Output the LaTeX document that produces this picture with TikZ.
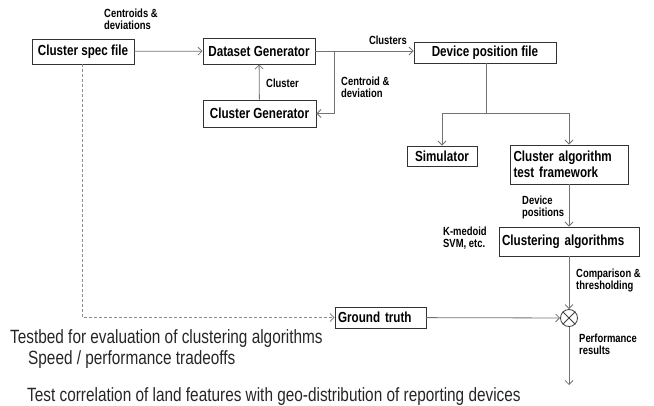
\documentclass[tikz,border=0pt]{standalone}
\usepackage{fontspec}
\setmainfont{Liberation Sans}
\newfontfamily\narrowfont[FakeStretch=0.80]{Liberation Sans}
\usetikzlibrary{arrows.meta}
\begin{document}
\begin{tikzpicture}[x=1pt,y=-1pt,
  box/.style={draw=black!80,line width=0.9pt,inner sep=2pt,
    font=\narrowfont\bfseries\fontsize{14.6}{15.5}\selectfont},
  lbl/.style={inner sep=0pt,align=left,anchor=north west,
    font=\narrowfont\bfseries\fontsize{11.8}{12}\selectfont},
  note/.style={inner sep=0pt,anchor=west,
    font=\narrowfont\fontsize{19.2}{20}\selectfont,text=black!85},
  link/.style={draw=black!55,line width=0.8pt},
  arr/.style={link,-{Straight Barb[length=4pt,width=8pt]}},
  dashlink/.style={arr,densely dashed,draw=black!45}]
\useasboundingbox (0,0) rectangle (654,406);

% boxes
\node[box,minimum width=102pt,minimum height=25pt] (spec) at (83,51.5) {Cluster spec file};
\node[box,minimum width=112pt,minimum height=26pt] (data) at (259,51) {Dataset Generator};
\node[box,minimum width=113pt,minimum height=27pt] (cgen) at (259.5,113.5) {Cluster Generator};
\node[box,minimum width=142pt,minimum height=21pt] (dev) at (485,52.5) {Device position file};
\node[box,minimum width=70pt,minimum height=20pt] (sim) at (442,156) {Simulator};
\node[box,minimum width=118pt,minimum height=39pt,align=left,text width=111pt] (frame) at (569,164.5)
  {Cluster algorithm\\test framework};
\node[box,minimum width=140pt,minimum height=29pt,align=left,text width=134pt] (algo) at (569,241.5)
  {Clustering algorithms};
\node[box,minimum width=91pt,minimum height=21pt,align=left,text width=85pt] (gt) at (380.5,317.5)
  {Ground truth};
\node[draw=black!75,line width=0.8pt,circle,minimum size=17pt,inner sep=0pt] (cmp) at (569,318) {};
\draw[black!75,line width=0.8pt] (cmp.north west) -- (cmp.south east)
  (cmp.north east) -- (cmp.south west);

% connectors
\coordinate (split) at (334,51);
\coordinate (fork) at (486,113);
\coordinate (out) at (569,385);
\draw[arr] (spec) -- (data);
\draw[arr] (data.east) -- (dev.west |- data.east);
\draw[arr] (split) |- (cgen.east);
\draw[arr] (cgen) -- (data);
\draw[link] (dev.south -| fork) -- (fork);
\draw[arr] (fork) -| (sim.north);
\draw[arr] (fork) -| (frame.north);
\draw[arr] (frame.south) -- (algo.north);
\draw[arr] (algo.south) -- (cmp.north);
\draw[arr] (gt) -- (cmp);
\draw[arr] (cmp.south) -- (out);
\draw[dashlink] (spec.south -| 82,0) |- (gt.west);

% labels on connectors
\node[lbl] (l1) at (104,9) {Centroids \&\\deviations};
\node[lbl] (l2) at (266,79) {Cluster};
\node[lbl,anchor=north east] (l3) at (407,36) {Clusters};
\node[lbl] (l4) at (341,77) {Centroid \&\\deviation};
\node[lbl] (l5) at (522,196) {Device\\positions};
\node[lbl] (l6) at (443,227) {K-medoid\\SVM, etc.};
\node[lbl] (l7) at (576,269) {Comparison \&\\thresholding};
\node[lbl] (l8) at (579,334) {Performance\\results};

% notes below the diagram
\node[note] (n1) at (10,339) {Testbed for evaluation of clustering algorithms};
\node[note] (n2) at (28,360) {Speed / performance tradeoffs};
\node[note] (n3) at (27,397) {Test correlation of land features with geo-distribution of reporting devices};
\end{tikzpicture}
\end{document}
